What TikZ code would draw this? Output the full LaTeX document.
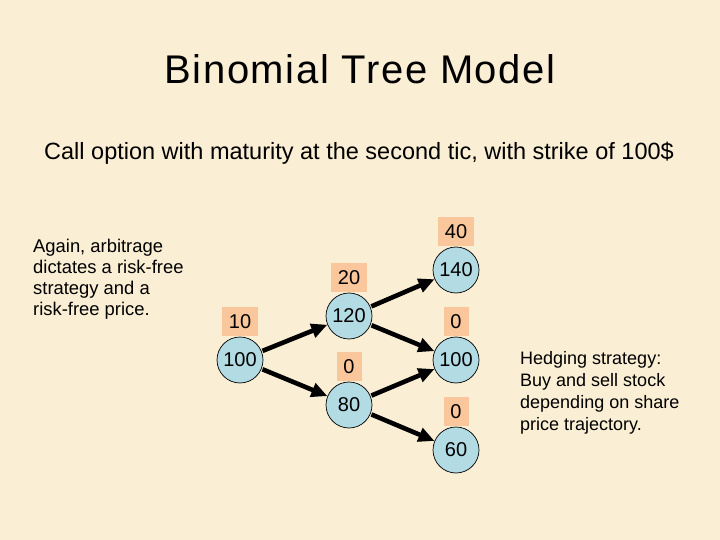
\documentclass[tikz,border=0pt]{standalone}
\usepackage{fontspec}
\setmainfont{Liberation Sans}
\newfontfamily\titlefont[LetterSpace=4]{Liberation Sans}
\usetikzlibrary{arrows.meta}
\definecolor{bgc}{RGB}{250,238,212}
\definecolor{circc}{RGB}{178,219,228}
\definecolor{boxc}{RGB}{250,198,156}
\tikzset{
  st/.style={circle,draw=black,line width=0.7pt,fill=circc,minimum size=46pt,inner sep=0pt,font=\fontsize{20}{20}\selectfont},
  pay/.style={fill=boxc,minimum height=29pt,inner sep=0pt,font=\fontsize{20}{20}\selectfont},
  wide/.style={pay,minimum width=36pt},
  narrow/.style={pay,minimum width=25pt},
  arr/.style={line width=4.6pt,-{Triangle[length=16pt,width=14pt]},shorten <=1pt},
  body/.style={align=left,anchor=north west,inner sep=0pt}
}
\begin{document}
\begin{tikzpicture}[x=1pt,y=-1pt]
\fill[bgc] (0,0) rectangle (720,540);
\useasboundingbox (0,0) rectangle (720,540);
\node[font=\titlefont\fontsize{40}{40}\selectfont] (title) at (360,69) {Binomial Tree Model};
\node[font=\fontsize{23.5}{23.5}\selectfont] (sub) at (359,153) {Call option with maturity at the second tic, with strike of 100\$};
\node[body,font=\fontsize{18.4}{21}\selectfont] (left) at (33,239) {Again, arbitrage\\dictates a risk-free\\strategy and a\\risk-free price.};
\node[body,font=\fontsize{18}{22}\selectfont] (right) at (520,351) {Hedging strategy:\\Buy and sell stock\\depending on share\\price trajectory.};
% stock nodes
\node[st] (r) at (240,360) {100};
\node[st] (u) at (349,316) {120};
\node[st] (d) at (349,405) {80};
\node[st] (uu) at (456,270) {140};
\node[st] (ud) at (456,360) {100};
\node[st] (dd) at (456,450) {60};
% payoff boxes
\node[wide,anchor=south] (pr) at (r.north) {10};
\node[wide,anchor=south] (pu) at (u.north) {20};
\node[narrow,anchor=south] (pd) at (d.north) {0};
\node[wide,anchor=south] (puu) at (uu.north) {40};
\node[narrow,anchor=south] (pud) at (ud.north) {0};
\node[narrow,anchor=south] (pdd) at (dd.north) {0};
% arrows
\draw[arr] (r) -- (u);
\draw[arr] (r) -- (d);
\draw[arr] (u) -- (uu);
\draw[arr] (u) -- (ud);
\draw[arr] (d) -- (ud);
\draw[arr] (d) -- (dd);
\end{tikzpicture}
\end{document}
